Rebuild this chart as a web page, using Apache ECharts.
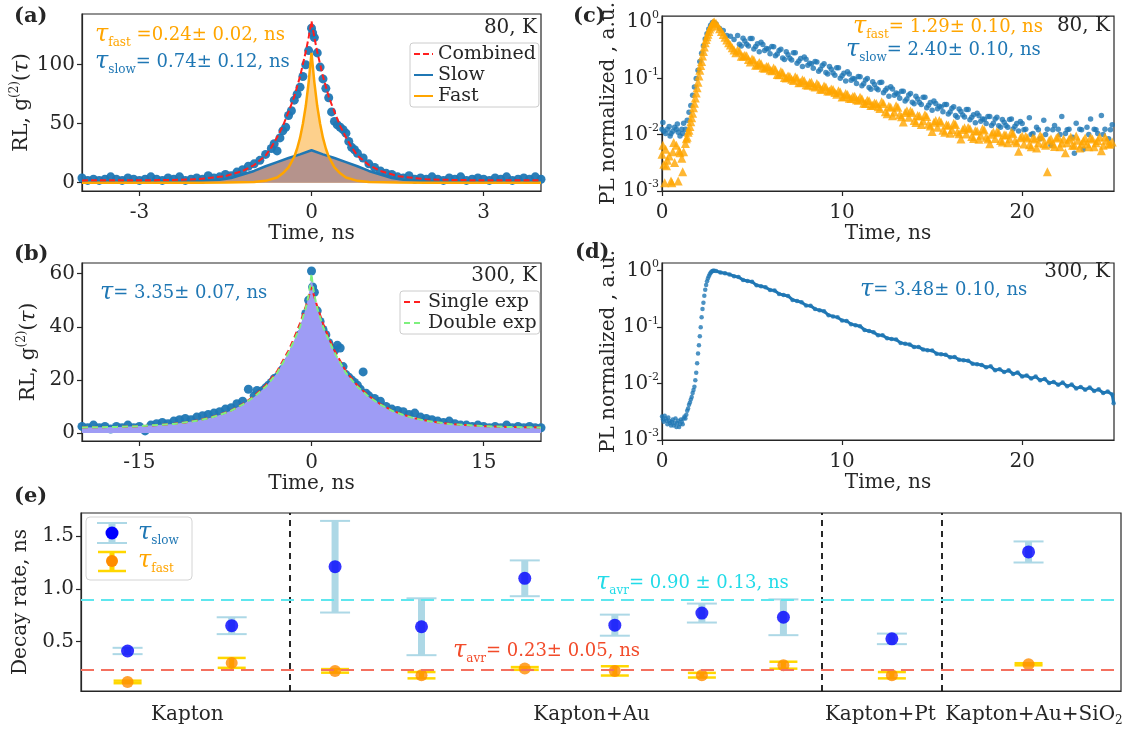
<!DOCTYPE html>
<html>
<head>
<meta charset="utf-8">
<script src="https://cdn.jsdelivr.net/npm/echarts@6/dist/echarts.min.js"></script>
<style>
html,body{margin:0;padding:0;background:#fff}
#chart{width:1128px;height:729px}
</style>
</head>
<body>
<div id="chart"></div>
<script>
// ---------- (a) 80 K : second-order correlation ----------
const corr80 = [[-4.0,4],[-3.9,2],[-3.8,3],[-3.7,2],[-3.6,3],[-3.5,5],[-3.4,3],[-3.3,2],[-3.2,4],[-3.1,3],[-3.0,2],[-2.9,3],[-2.8,5],[-2.7,3],[-2.6,2],[-2.5,4],[-2.4,3],[-2.3,5],[-2.2,2],[-2.1,3],[-2.0,4],[-1.9,3],[-1.8,6],[-1.7,4],[-1.6,5],[-1.5,7],[-1.4,6],[-1.3,9],[-1.2,11],[-1.1,14],[-1.0,16],[-0.9,19],[-0.8,24],[-0.7,29],[-0.65,33],[-0.6,27],[-0.55,38],[-0.5,44],[-0.45,47],[-0.4,57],[-0.35,61],[-0.3,70],[-0.25,75],[-0.2,81],[-0.15,90],[-0.1,100],[-0.05,112],[0,131],[0.02,127],[0.05,123],[0.1,110],[0.15,98],[0.2,88],[0.25,80],[0.3,72],[0.35,60],[0.4,52],[0.45,49],[0.5,47],[0.55,45],[0.6,42],[0.65,35],[0.7,30],[0.75,28],[0.8,25],[0.9,21],[1.0,16],[1.1,13],[1.2,10],[1.3,8],[1.4,7],[1.5,5],[1.6,4],[1.7,6],[1.8,3],[1.9,4],[2.0,3],[2.1,5],[2.2,3],[2.3,2],[2.4,4],[2.5,3],[2.6,5],[2.7,2],[2.8,3],[2.9,4],[3.0,3],[3.1,2],[3.2,4],[3.3,3],[3.4,5],[3.5,2],[3.6,3],[3.7,4],[3.8,3],[3.9,5],[4.0,3]];
const fitComb80 = [[-4,2],[-3,2.1],[-2.5,2.3],[-2,2.9],[-1.5,5.6],[-1.2,10],[-1,15],[-0.8,23],[-0.7,30],[-0.6,38.5],[-0.5,48],[-0.4,60],[-0.3,73],[-0.2,90],[-0.1,111],[-0.05,123],[0,137],[0.05,123],[0.1,111],[0.2,90],[0.3,73],[0.4,60],[0.5,48],[0.6,38.5],[0.7,30],[0.8,23],[1,15],[1.2,10],[1.5,5.6],[2,2.9],[2.5,2.3],[3,2.1],[4,2]];
const fitSlow80 = [[-4,1],[-3,1],[-2,1.5],[-1.6,2.5],[-1.4,4],[-1.2,7],[-1,10],[-0.8,14],[-0.6,17.5],[-0.4,21],[-0.2,24],[0,27.5],[0.2,24],[0.4,21],[0.6,17.5],[0.8,14],[1,10],[1.2,7],[1.4,4],[1.6,2.5],[2,1.5],[3,1],[4,1]];
const fitFast80 = [[-4,0],[-2,0],[-1.5,0.1],[-1,0.6],[-0.8,1.6],[-0.6,4.5],[-0.5,8],[-0.4,13],[-0.3,22],[-0.25,29],[-0.2,38],[-0.15,50],[-0.1,65],[-0.05,85],[0,110],[0.05,85],[0.1,65],[0.15,50],[0.2,38],[0.25,29],[0.3,22],[0.4,13],[0.5,8],[0.6,4.5],[0.8,1.6],[1,0.6],[1.5,0.1],[2,0],[4,0]];

// ---------- (b) 300 K : second-order correlation ----------
const corr300 = [[-20,2.5],[-19.5,2],[-19,3],[-18.5,2],[-18,2.5],[-17.5,1.5],[-17,2.5],[-16.5,2],[-16,3],[-15.5,2],[-15,2.5],[-14.5,0.8],[-14,3],[-13.5,3.5],[-13,4],[-12.5,3.5],[-12,4.5],[-11.5,5],[-11,5.5],[-10.5,5],[-10,6],[-9.5,6.5],[-9,7],[-8.5,7.5],[-8,8],[-7.5,9],[-7,9.5],[-6.5,11],[-6,12],[-5.5,16.5],[-5,14],[-4.75,16],[-4.5,15],[-4.25,16],[-4,17],[-3.75,18],[-3.5,19],[-3.25,20.5],[-3,21],[-2.75,22],[-2.5,24],[-2.25,25],[-2,27],[-1.75,29],[-1.5,31],[-1.25,33],[-1,37],[-0.75,40],[-0.5,45],[-0.25,50],[0,61],[0.1,55],[0.25,53],[0.5,46],[0.75,42],[1,39],[1.25,37],[1.5,34],[1.75,32],[2,31],[2.25,33],[2.5,32],[2.75,25],[3,22],[3.25,21],[3.5,20],[3.75,19],[4,18],[4.25,16.5],[4.5,23],[4.75,15],[5,14],[5.5,13],[6,12],[6.5,10],[7,9],[7.5,8.5],[8,8],[8.5,7],[9,7.5],[9.5,6],[10,5.5],[10.5,5],[11,4.5],[11.5,4],[12,4.5],[12.5,3.5],[13,3],[13.5,3],[14,2.5],[14.5,3],[15,2.5],[15.5,2],[16,2.5],[16.5,2],[17,3],[17.5,2],[18,2.5],[18.5,2],[19,2.5],[19.5,2],[20,2]];
const fitSingle300 = [[-20,2.1],[-17,2.3],[-15,2.6],[-13,3.1],[-12,3.5],[-11,4],[-10,4.7],[-9,5.6],[-8,6.9],[-7,8.5],[-6,10.9],[-5,13.9],[-4,17.9],[-3,23.2],[-2,31.1],[-1.5,35.9],[-1,41.3],[-0.5,47.7],[-0.25,51.2],[0,55],[0.25,51.2],[0.5,47.7],[1,41.3],[1.5,35.9],[2,31.1],[3,23.2],[4,17.9],[5,13.9],[6,10.9],[7,8.5],[8,6.9],[9,5.6],[10,4.7],[11,4],[12,3.5],[13,3.1],[15,2.6],[17,2.3],[20,2.1]];
const fitDouble300 = [[-20,2.1],[-17,2.3],[-15,2.6],[-12,3.4],[-10,4.6],[-9,5.5],[-8,6.8],[-7,8.4],[-6,10.7],[-5,13.6],[-4,17.4],[-3,22.6],[-2,30.3],[-1.5,35],[-1,40],[-0.5,47],[-0.25,52],[-0.1,56],[0,60],[0.1,56],[0.25,52],[0.5,47],[1,40],[1.5,35],[2,30.3],[3,22.6],[4,17.4],[5,13.6],[6,10.7],[7,8.4],[8,6.8],[9,5.5],[10,4.6],[12,3.4],[15,2.6],[17,2.3],[20,2.1]];

// ---------- (c) 80 K : PL decay ----------
const plSlow80 = [[0,0.0125],[0.05,0.0165],[0.1,0.0115],[0.2,0.0105],[0.3,0.0125],[0.4,0.014],[0.45,0.0095],[0.5,0.0105],[0.6,0.0115],[0.7,0.0135],[0.8,0.0125],[0.85,0.0155],[0.9,0.011],[1.0,0.0095],[1.1,0.0125],[1.15,0.0105],[1.2,0.016],[1.3,0.0125],[1.4,0.018],[1.5,0.025],[1.6,0.033],[1.7,0.05],[1.8,0.07],[1.9,0.1],[2.0,0.14],[2.1,0.2],[2.2,0.28],[2.3,0.38],[2.4,0.5],[2.5,0.62],[2.6,0.75],[2.7,0.88],[2.8,0.98],[2.9,0.97],[3.0,0.92],[3.2,0.77],[3.4,0.71],[3.6,0.58],[3.8,0.56],[4.0,0.49],[4.2,0.576],[4.3,0.402],[4.4,0.375],[4.5,0.514],[4.6,0.459],[4.7,0.402],[4.8,0.376],[4.9,0.509],[5.0,0.509],[5.1,0.334],[5.2,0.37],[5.3,0.41],[5.4,0.298],[5.5,0.436],[5.6,0.398],[5.7,0.312],[5.8,0.339],[5.9,0.331],[6.0,0.275],[6.1,0.367],[6.2,0.365],[6.3,0.251],[6.4,0.271],[6.5,0.314],[6.6,0.33],[6.7,0.231],[6.8,0.216],[6.9,0.296],[7.0,0.264],[7.1,0.228],[7.2,0.211],[7.3,0.286],[7.4,0.286],[7.5,0.186],[7.6,0.203],[7.7,0.226],[7.8,0.163],[7.9,0.24],[8.0,0.218],[8.1,0.171],[8.2,0.186],[8.3,0.182],[8.4,0.151],[8.5,0.2],[8.6,0.196],[8.7,0.134],[8.8,0.145],[8.9,0.169],[9.0,0.181],[9.1,0.127],[9.2,0.119],[9.3,0.162],[9.4,0.145],[9.5,0.124],[9.6,0.114],[9.7,0.154],[9.8,0.154],[9.9,0.101],[10.0,0.111],[10.1,0.123],[10.2,0.0896],[10.3,0.131],[10.4,0.12],[10.5,0.0927],[10.6,0.1],[10.7,0.097],[10.8,0.0808],[10.9,0.108],[11.0,0.107],[11.1,0.0739],[11.2,0.08],[11.3,0.0935],[11.4,0.0996],[11.5,0.0688],[11.6,0.064],[11.7,0.0874],[11.8,0.0777],[11.9,0.067],[12.0,0.0625],[12.1,0.0842],[12.2,0.085],[12.3,0.0554],[12.4,0.0618],[12.5,0.067],[12.6,0.048],[12.7,0.0708],[12.8,0.065],[12.9,0.0504],[13.0,0.055],[13.1,0.053],[13.2,0.0442],[13.3,0.0592],[13.4,0.059],[13.5,0.0398],[13.6,0.0432],[13.7,0.0506],[13.8,0.054],[13.9,0.0378],[14.0,0.0353],[14.1,0.0483],[14.2,0.043],[14.3,0.0372],[14.4,0.0343],[14.5,0.0464],[14.6,0.0463],[14.7,0.0302],[14.8,0.0333],[14.9,0.0373],[15.0,0.0272],[15.1,0.0396],[15.2,0.0358],[15.3,0.0288],[15.4,0.032],[15.5,0.031],[15.6,0.0255],[15.7,0.0342],[15.8,0.0342],[15.9,0.0232],[16.0,0.0253],[16.1,0.0295],[16.2,0.0312],[16.3,0.0219],[16.4,0.0205],[16.5,0.0285],[16.6,0.0257],[16.7,0.0223],[16.8,0.0206],[16.9,0.0279],[17.0,0.028],[17.1,0.0184],[17.2,0.0203],[17.3,0.0226],[17.4,0.0163],[17.5,0.024],[17.6,0.0218],[17.7,0.0173],[17.8,0.019],[17.9,0.0188],[18.0,0.0158],[18.1,0.0211],[18.2,0.021],[18.3,0.0146],[18.4,0.016],[18.5,0.0189],[18.6,0.0204],[18.7,0.0144],[18.8,0.0136],[18.9,0.0186],[19.0,0.0166],[19.1,0.0145],[19.2,0.0136],[19.3,0.0187],[19.4,0.0189],[19.5,0.0126],[19.6,0.0141],[19.7,0.0158],[19.8,0.0116],[19.9,0.0172],[20.0,0.0158],[20.1,0.0123],[20.2,0.0125],[20.4,0.02],[20.5,0.0101],[20.6,0.0105],[20.8,0.0135],[20.9,0.0123],[21.0,0.0085],[21.2,0.018],[21.3,0.0101],[21.4,0.0125],[21.6,0.0065],[21.7,0.0123],[21.8,0.0145],[22.0,0.0125],[22.1,0.0101],[22.2,0.021],[22.4,0.0105],[22.5,0.0123],[22.6,0.0125],[22.8,0.009],[22.9,0.0047],[23.0,0.016],[23.2,0.0125],[23.3,0.0123],[23.4,0.0055],[23.6,0.0135],[23.7,0.0101],[23.8,0.019],[24.0,0.0125],[24.1,0.0123],[24.2,0.0105],[24.4,0.022],[24.5,0.0101],[24.6,0.0125],[24.8,0.0085],[24.9,0.0123],[25.0,0.015]];
const plFast80 = [[0,0.0045],[0.05,0.0065],[0.1,0.003],[0.15,0.0014],[0.2,0.0055],[0.25,0.0028],[0.3,0.0035],[0.4,0.0042],[0.5,0.0015],[0.55,0.0014],[0.6,0.005],[0.65,0.0073],[0.7,0.0032],[0.8,0.0065],[0.9,0.0015],[0.95,0.0052],[1.0,0.0048],[1.1,0.0038],[1.15,0.0022],[1.2,0.005],[1.3,0.007],[1.35,0.0085],[1.4,0.009],[1.45,0.011],[1.5,0.012],[1.55,0.014],[1.6,0.017],[1.65,0.02],[1.7,0.024],[1.75,0.03],[1.8,0.036],[1.85,0.045],[1.9,0.055],[1.95,0.068],[2.0,0.085],[2.05,0.11],[2.1,0.14],[2.15,0.17],[2.2,0.2],[2.25,0.25],[2.3,0.3],[2.35,0.36],[2.4,0.43],[2.45,0.49],[2.5,0.55],[2.55,0.61],[2.6,0.68],[2.65,0.75],[2.7,0.82],[2.75,0.89],[2.8,0.95],[2.85,0.98],[2.9,1.0],[3.0,0.95],[3.1,0.85],[3.2,0.76],[3.3,0.68],[3.4,0.6],[3.5,0.54],[3.6,0.48],[3.7,0.43],[3.8,0.39],[3.9,0.35],[4.0,0.32],[4.1,0.286],[4.2,0.319],[4.3,0.302],[4.4,0.248],[4.5,0.246],[4.6,0.258],[4.7,0.251],[4.8,0.216],[4.9,0.196],[5.0,0.22],[5.1,0.211],[5.2,0.171],[5.3,0.173],[5.4,0.192],[5.5,0.181],[5.6,0.154],[5.7,0.151],[5.8,0.163],[5.9,0.163],[6.0,0.141],[6.1,0.136],[6.2,0.153],[6.3,0.142],[6.4,0.117],[6.5,0.116],[6.6,0.132],[6.7,0.126],[6.8,0.104],[6.9,0.102],[7.0,0.11],[7.1,0.108],[7.2,0.096],[7.3,0.092],[7.4,0.107],[7.5,0.102],[7.6,0.0837],[7.7,0.0855],[7.8,0.095],[7.9,0.0912],[8.0,0.0773],[8.1,0.0754],[8.2,0.0842],[8.3,0.0853],[8.4,0.0732],[8.5,0.0705],[8.6,0.0814],[8.7,0.0756],[8.8,0.0639],[8.9,0.0642],[9.0,0.0734],[9.1,0.0706],[9.2,0.0598],[9.3,0.0599],[9.4,0.0645],[9.5,0.0636],[9.6,0.056],[9.7,0.0524],[9.8,0.0605],[9.9,0.0572],[10.0,0.0468],[10.1,0.0479],[10.2,0.054],[10.3,0.0515],[10.4,0.0442],[10.5,0.0437],[10.6,0.0478],[10.7,0.0482],[10.8,0.0418],[10.9,0.0409],[11.0,0.0462],[11.1,0.0435],[11.2,0.036],[11.3,0.0359],[11.4,0.041],[11.5,0.04],[11.6,0.0331],[11.7,0.0334],[11.8,0.0364],[11.9,0.0357],[12.0,0.0314],[12.1,0.0293],[12.2,0.0384],[12.3,0.0357],[12.4,0.0255],[12.5,0.0236],[12.6,0.0319],[12.7,0.0308],[12.8,0.0216],[12.9,0.0252],[13.0,0.0325],[13.1,0.0306],[13.2,0.0225],[13.3,0.0208],[13.4,0.0168],[13.5,0.0247],[13.6,0.0265],[13.7,0.0203],[13.8,0.0264],[13.9,0.0247],[14.0,0.0179],[14.1,0.0164],[14.2,0.022],[14.3,0.0215],[14.4,0.0152],[14.5,0.0176],[14.6,0.0225],[14.7,0.021],[14.8,0.0153],[14.9,0.0142],[15.0,0.0114],[15.1,0.0167],[15.2,0.0178],[15.3,0.0136],[15.4,0.0178],[15.5,0.0167],[15.6,0.012],[15.7,0.0111],[15.8,0.015],[15.9,0.0147],[16.0,0.0106],[16.1,0.0124],[16.2,0.016],[16.3,0.0151],[16.4,0.0112],[16.5,0.0104],[16.6,0.0084],[16.7,0.0124],[16.8,0.0133],[16.9,0.0103],[17.0,0.0134],[17.1,0.0127],[17.2,0.0093],[17.3,0.0086],[17.4,0.0117],[17.5,0.0116],[17.6,0.0083],[17.7,0.0098],[17.8,0.0128],[17.9,0.0121],[18.0,0.009],[18.1,0.0084],[18.2,0.0069],[18.3,0.0102],[18.4,0.0112],[18.5,0.0086],[18.6,0.0114],[18.7,0.0108],[18.8,0.0079],[18.9,0.0074],[19.0,0.01],[19.1,0.0099],[19.2,0.0072],[19.3,0.0085],[19.4,0.011],[19.5,0.0104],[19.6,0.0077],[19.7,0.0072],[19.8,0.0051],[19.9,0.0088],[20.0,0.0095],[20.1,0.0068],[20.2,0.0094],[20.3,0.0087],[20.4,0.0066],[20.5,0.0061],[20.6,0.0088],[20.7,0.0084],[20.8,0.0058],[20.9,0.0072],[21.0,0.0097],[21.1,0.0091],[21.2,0.0069],[21.3,0.0065],[21.4,0.0022],[21.5,0.008],[21.6,0.0085],[21.7,0.0068],[21.8,0.0062],[21.9,0.0087],[22.0,0.0092],[22.1,0.0061],[22.2,0.0071],[22.3,0.0084],[22.4,0.0048],[22.5,0.0072],[22.6,0.0083],[22.7,0.0091],[22.8,0.0065],[22.9,0.0065],[23.0,0.0095],[23.1,0.008],[23.2,0.0058],[23.3,0.0068],[23.4,0.0078],[23.5,0.0087],[23.6,0.0069],[23.7,0.0061],[23.8,0.0088],[23.9,0.0084],[24.0,0.0061],[24.1,0.0072],[24.2,0.0079],[24.3,0.0091],[24.4,0.0052],[24.5,0.0065],[24.6,0.0091],[24.7,0.008],[24.8,0.0068],[24.9,0.0068],[25.0,0.0074]];

// ---------- (d) 300 K : PL decay ----------
const plRise300 = [[0,0.0026],[0.05,0.0023],[0.1,0.0021],[0.15,0.0027],[0.2,0.0024],[0.25,0.0022],[0.3,0.0019],[0.35,0.0025],[0.4,0.0022],[0.45,0.002],[0.5,0.0018],[0.55,0.0021],[0.6,0.0023],[0.65,0.0018],[0.7,0.002],[0.75,0.0024],[0.8,0.0017],[0.85,0.002],[0.9,0.0022],[0.95,0.0017],[1.0,0.0019],[1.05,0.0023],[1.1,0.0021],[1.15,0.0019],[1.2,0.0024],[1.25,0.0026],[1.3,0.0024],[1.35,0.0028],[1.4,0.0033],[1.45,0.0036],[1.5,0.0042],[1.55,0.0046],[1.6,0.0052],[1.65,0.0058],[1.7,0.0068],[1.75,0.0077],[1.8,0.0088],[1.85,0.0115],[1.9,0.0155],[1.95,0.023],[2.0,0.034],[2.05,0.048],[2.1,0.069],[2.15,0.1],[2.2,0.15],[2.25,0.21],[2.3,0.27],[2.35,0.36],[2.4,0.46],[2.45,0.56],[2.5,0.65],[2.55,0.73],[2.6,0.8],[2.65,0.87],[2.7,0.92],[2.75,0.96],[2.8,0.99],[2.85,1.0],[2.9,1.0]];
const plDecay300 = [[3.0,0.99],[3.25,0.93],[3.5,0.9],[3.75,0.86],[4.0,0.8],[4.25,0.776],[4.5,0.684],[4.75,0.658],[5.0,0.639],[5.25,0.551],[5.5,0.531],[5.75,0.511],[6.0,0.454],[6.25,0.446],[6.5,0.388],[6.75,0.371],[7.0,0.357],[7.25,0.304],[7.5,0.29],[7.75,0.277],[8.0,0.243],[8.25,0.239],[8.5,0.209],[8.75,0.199],[9.0,0.191],[9.25,0.163],[9.5,0.155],[9.75,0.149],[10.0,0.131],[10.25,0.129],[10.5,0.113],[10.75,0.108],[11.0,0.104],[11.25,0.089],[11.5,0.0852],[11.75,0.0814],[12.0,0.0719],[12.25,0.0719],[12.5,0.0636],[12.75,0.0618],[13.0,0.0605],[13.25,0.0526],[13.5,0.051],[13.75,0.0495],[14.0,0.0443],[14.25,0.0447],[14.5,0.04],[14.75,0.0391],[15.0,0.0387],[15.25,0.0339],[15.5,0.0332],[15.75,0.0324],[16.0,0.0293],[16.25,0.0296],[16.5,0.0264],[16.75,0.0259],[17.0,0.0255],[17.25,0.0224],[17.5,0.0219],[17.75,0.0214],[18.0,0.0194],[18.25,0.0202],[18.5,0.0172],[18.75,0.018],[19.0,0.016],[19.25,0.0172],[19.5,0.0148],[19.75,0.0157],[20.0,0.0133],[20.25,0.0139],[20.5,0.0123],[20.75,0.0133],[21.0,0.0114],[21.25,0.0121],[21.5,0.0102],[21.75,0.0107],[22.0,0.0095],[22.25,0.0104],[22.5,0.009],[22.75,0.0096],[23.0,0.0082],[23.25,0.0087],[23.5,0.0078],[23.75,0.0085],[24.0,0.0074],[24.25,0.0079],[24.5,0.0068],[24.75,0.0072],[25.0,0.0064],[25.08,0.0045]];

// ---------- (e) lifetimes per sample ----------
const samplePos   = [0.448, 1.449, 2.443, 3.274, 4.267, 5.133, 5.970, 6.754, 7.797, 9.111];
const tauSlow     = [0.41, 0.65, 1.21, 0.64, 1.10, 0.655, 0.77, 0.73, 0.525, 1.35];
const tauSlowErr  = [0.03, 0.08, 0.435, 0.27, 0.17, 0.10, 0.09, 0.17, 0.05, 0.10];
const tauFast     = [0.116, 0.297, 0.221, 0.18, 0.244, 0.221, 0.18, 0.275, 0.18, 0.284];
const tauFastErr  = [0.012, 0.047, 0.017, 0.03, 0.013, 0.044, 0.022, 0.033, 0.03, 0.01];
const groupNames   = ['Kapton', 'Kapton+Au', 'Kapton+Pt', 'Kapton+Au+SiO2'];
const groupCenters = [1.023, 4.91, 7.686, 9.163];
const groupBounds  = [2.007, 7.124, 8.278];
const tauSlowAvg = [0.90, 0.13];
const tauFastAvg = [0.23, 0.05];

// ---------- tick values ----------
const ticksAx = [-3, 0, 3], ticksAy = [0, 50, 100];
const ticksBx = [-15, 0, 15], ticksBy = [0, 20, 40, 60];
const ticksT = [0, 10, 20];
const ticksLog = [0.0010001, 0.01, 0.1, 1];
const ticksEy = [0.5, 1.0, 1.5];

const F = 'DejaVu Serif';
const INK = '#262626';
const C0 = '#1f77b4';
const ORG = '#ffa500';

function axis(o) {
  const base = {
    type: 'value',
    nameLocation: 'middle',
    axisLine: { show: true, onZero: false, lineStyle: { color: INK, width: 1.2 } },
    axisTick: { show: true, length: 5, lineStyle: { color: INK, width: 1.2 } },
    splitLine: { show: false },
    axisLabel: { fontFamily: F, fontSize: 20, color: INK },
    nameTextStyle: { fontFamily: F, fontSize: 20, color: INK }
  };
  return echarts.util.merge(base, o, true);
}

const logRich = {
  b: { fontFamily: F, fontSize: 20, color: INK, lineHeight: 24 },
  e: { fontFamily: F, fontSize: 11, color: INK, lineHeight: 11, verticalAlign: 'top' }
};
const logFmt = v => '{b|10}{e|' + Math.round(Math.log10(v)) + '}';

const g2Name = '{n|RL, g}{p|(2)}{n|(}{t|τ}{n|)}';
const g2Rich = {
  n: { fontFamily: F, fontSize: 20, color: INK, lineHeight: 26 },
  p: { fontFamily: F, fontSize: 12, color: INK, lineHeight: 12, verticalAlign: 'top' },
  t: { fontFamily: F, fontSize: 22, fontStyle: 'italic', color: INK, lineHeight: 26 }
};

function groupLabel(v) {
  const i = groupCenters.findIndex(c => Math.abs(c - v) < 1e-6);
  const name = i >= 0 ? groupNames[i] : '';
  const m = name.match(/^(.*?)(\d+)$/);
  return m ? '{n|' + m[1] + '}{s|' + m[2] + '}' : '{n|' + name + '}';
}

function tauText(x, y, sub, rest, color) {
  let txt = '{t|τ}';
  if (sub) txt += '{s|' + sub + '}';
  if (rest) txt += '{n|' + rest + '}';
  return {
    type: 'text', x: x, y: y, z: 50, silent: true,
    style: {
      text: txt, fill: color, verticalAlign: 'middle', align: 'left',
      rich: {
        t: { fontFamily: F, fontStyle: 'italic', fontSize: 24, fill: color, lineHeight: 28, verticalAlign: 'middle' },
        s: { fontFamily: F, fontSize: 12, fill: color, lineHeight: 13, verticalAlign: 'bottom' },
        n: { fontFamily: F, fontSize: 18, fill: color, lineHeight: 28, verticalAlign: 'middle' }
      }
    }
  };
}
function plainText(x, y, text, align, weight) {
  return {
    type: 'text', x: x, y: y, z: 50, silent: true,
    style: { text: text, fill: INK, fontFamily: F, fontSize: weight ? 21 : 20, fontWeight: weight || 'normal', align: align, verticalAlign: 'middle' }
  };
}

function errorBar(color, barW, capW, capLW) {
  return function (params, api) {
    const x = api.value(0), y = api.value(1), e = api.value(2);
    const top = api.coord([x, y + e]);
    const bot = api.coord([x, y - e]);
    const h = capW / 2;
    return {
      type: 'group',
      children: [
        { type: 'rect', shape: { x: top[0] - barW / 2, y: top[1], width: barW, height: bot[1] - top[1] }, style: { fill: color } },
        { type: 'line', shape: { x1: top[0] - h, y1: top[1], x2: top[0] + h, y2: top[1] }, style: { stroke: color, lineWidth: capLW } },
        { type: 'line', shape: { x1: bot[0] - h, y1: bot[1], x2: bot[0] + h, y2: bot[1] }, style: { stroke: color, lineWidth: capLW } }
      ]
    };
  };
}

const gridBox = { show: true, borderColor: INK, borderWidth: 1.2, backgroundColor: 'transparent' };

const legendBase = {
  orient: 'vertical', itemGap: 1, itemWidth: 19, itemHeight: 14,
  padding: [1, 3, 1, 3], borderColor: '#cccccc', borderWidth: 1, borderRadius: 3,
  backgroundColor: 'rgba(255,255,255,0.85)',
  itemStyle: { opacity: 0 },
  textStyle: { fontFamily: F, fontSize: 19, color: INK, lineHeight: 20 },
  selectedMode: false
};

const option = {
  animation: false,
  backgroundColor: '#ffffff',
  grid: [
    Object.assign({ left: 82, top: 14, width: 459, height: 177 }, gridBox),
    Object.assign({ left: 82, top: 263, width: 459, height: 178 }, gridBox),
    Object.assign({ left: 662, top: 12, width: 452, height: 179 }, gridBox),
    Object.assign({ left: 662, top: 263, width: 452, height: 177 }, gridBox),
    Object.assign({ left: 81, top: 513, width: 1040, height: 178 }, gridBox)
  ],
  xAxis: [
    axis({ gridIndex: 0, min: -4, max: 4, name: 'Time, ns', nameGap: 30,
      axisLabel: { customValues: ticksAx, margin: 12 }, axisTick: { customValues: ticksAx } }),
    axis({ gridIndex: 1, min: -20, max: 20, name: 'Time, ns', nameGap: 30,
      axisLabel: { customValues: ticksBx, margin: 12 }, axisTick: { customValues: ticksBx } }),
    axis({ gridIndex: 2, min: 0, max: 25.1, name: 'Time, ns', nameGap: 30,
      axisLabel: { customValues: ticksT, margin: 12 }, axisTick: { customValues: ticksT } }),
    axis({ gridIndex: 3, min: 0, max: 25.1, name: 'Time, ns', nameGap: 30,
      axisLabel: { customValues: ticksT, margin: 12 }, axisTick: { customValues: ticksT } }),
    axis({ gridIndex: 4, min: 0, max: 10, axisTick: { show: false },
      axisLabel: { customValues: groupCenters, margin: 12, formatter: groupLabel,
        rich: { n: { fontFamily: F, fontSize: 20, color: INK, lineHeight: 24 },
                s: { fontFamily: F, fontSize: 12, color: INK, lineHeight: 12, verticalAlign: 'bottom' } } } })
  ],
  yAxis: [
    axis({ gridIndex: 0, min: -7, max: 143, name: g2Name, nameRotate: 90, nameGap: 40,
      nameTextStyle: { rich: g2Rich },
      axisLabel: { customValues: ticksAy, margin: 7 }, axisTick: { customValues: ticksAy } }),
    axis({ gridIndex: 1, min: -3, max: 64, name: g2Name, nameRotate: 90, nameGap: 40,
      nameTextStyle: { rich: g2Rich },
      axisLabel: { customValues: ticksBy, margin: 7 }, axisTick: { customValues: ticksBy } }),
    axis({ gridIndex: 2, type: 'log', logBase: 10, min: 0.001, max: 1.28,
      name: 'PL normalized , a.u.', nameRotate: 90, nameGap: 30,
      axisLabel: { customValues: ticksLog, formatter: logFmt, margin: 3, rich: logRich },
      axisTick: { customValues: ticksLog } }),
    axis({ gridIndex: 3, type: 'log', logBase: 10, min: 0.001, max: 1.37,
      name: 'PL normalized , a.u.', nameRotate: 90, nameGap: 30,
      axisLabel: { customValues: ticksLog, formatter: logFmt, margin: 3, rich: logRich },
      axisTick: { customValues: ticksLog } }),
    axis({ gridIndex: 4, min: 0.03, max: 1.72, name: 'Decay rate, ns', nameRotate: 90, nameGap: 35,
      axisLabel: { customValues: ticksEy, margin: 7, formatter: v => v.toFixed(1) },
      axisTick: { customValues: ticksEy } })
  ],
  legend: [
    Object.assign({ left: 410, top: 43, data: ['Combined', 'Slow', 'Fast'] }, legendBase),
    Object.assign({ left: 400, top: 291, data: ['Single exp', 'Double exp'] }, legendBase)
  ],
  series: [
    // (a)
    { type: 'scatter', xAxisIndex: 0, yAxisIndex: 0, data: corr80, symbolSize: 9,
      itemStyle: { color: C0, opacity: 0.95 }, z: 2, silent: true },
    { type: 'line', xAxisIndex: 0, yAxisIndex: 0, data: fitFast80, symbol: 'none',
      lineStyle: { width: 0 }, areaStyle: { color: '#fdd08c', opacity: 1 }, z: 3, silent: true },
    { type: 'line', xAxisIndex: 0, yAxisIndex: 0, data: fitSlow80, symbol: 'none',
      lineStyle: { width: 0 }, areaStyle: { color: '#b5938c', opacity: 1 }, z: 4, silent: true },
    { type: 'line', name: 'Slow', xAxisIndex: 0, yAxisIndex: 0, data: fitSlow80, symbol: 'none',
      lineStyle: { color: C0, width: 2.5 }, itemStyle: { color: C0 }, z: 5 },
    { type: 'line', name: 'Fast', xAxisIndex: 0, yAxisIndex: 0, data: fitFast80, symbol: 'none',
      lineStyle: { color: ORG, width: 2.5 }, itemStyle: { color: ORG }, z: 5 },
    { type: 'line', name: 'Combined', xAxisIndex: 0, yAxisIndex: 0, data: fitComb80, symbol: 'none',
      lineStyle: { color: '#ff1f1f', width: 2, type: [6, 3] }, itemStyle: { color: '#ff1f1f' }, z: 6 },
    // (b)
    { type: 'scatter', xAxisIndex: 1, yAxisIndex: 1, data: corr300, symbolSize: 9,
      itemStyle: { color: C0, opacity: 0.95 }, z: 2, silent: true },
    { type: 'line', xAxisIndex: 1, yAxisIndex: 1, data: fitDouble300, symbol: 'none',
      lineStyle: { width: 0 }, areaStyle: { color: '#9e9cf5', opacity: 1 }, z: 3, silent: true },
    { type: 'line', name: 'Single exp', xAxisIndex: 1, yAxisIndex: 1, data: fitSingle300, symbol: 'none',
      lineStyle: { color: '#ff1f1f', width: 2, type: [6, 4] }, itemStyle: { color: '#ff1f1f' }, z: 5 },
    { type: 'line', name: 'Double exp', xAxisIndex: 1, yAxisIndex: 1, data: fitDouble300, symbol: 'none',
      lineStyle: { color: '#7ef07e', width: 2, type: [6, 4] }, itemStyle: { color: '#7ef07e' }, z: 6 },
    // (c)
    { type: 'scatter', xAxisIndex: 2, yAxisIndex: 2, data: plSlow80, symbolSize: 5.5,
      itemStyle: { color: C0 }, z: 2, silent: true },
    { type: 'scatter', xAxisIndex: 2, yAxisIndex: 2, data: plFast80, symbol: 'triangle', symbolSize: 9,
      itemStyle: { color: ORG }, z: 3, silent: true },
    // (d)
    { type: 'line', xAxisIndex: 3, yAxisIndex: 3, data: plDecay300, symbol: 'none',
      lineStyle: { color: C0, width: 3 }, z: 2, silent: true },
    { type: 'scatter', xAxisIndex: 3, yAxisIndex: 3, data: plRise300.concat(plDecay300), symbolSize: 4.5,
      itemStyle: { color: C0 }, z: 3, silent: true },
    // (e) guide lines
    { type: 'line', xAxisIndex: 4, yAxisIndex: 4, data: [], z: 1, silent: true,
      markLine: { silent: true, symbol: 'none', label: { show: false }, animation: false,
        data: groupBounds.map(v => ({ xAxis: v, lineStyle: { color: '#111111', type: [6, 5], width: 1.8 } }))
          .concat([
            { yAxis: tauSlowAvg[0], lineStyle: { color: '#5ee6ee', type: [13, 7], width: 2 } },
            { yAxis: tauFastAvg[0], lineStyle: { color: '#f4705f', type: [13, 7], width: 2 } }
          ]) } },
    // (e) error bars and markers
    { type: 'custom', xAxisIndex: 4, yAxisIndex: 4, z: 2, silent: true, encode: { x: 0, y: 1 },
      renderItem: errorBar('#add8e6', 7, 30, 2),
      data: samplePos.map((x, i) => [x, tauSlow[i], tauSlowErr[i]]) },
    { type: 'custom', xAxisIndex: 4, yAxisIndex: 4, z: 2, silent: true, encode: { x: 0, y: 1 },
      renderItem: errorBar('#ffd700', 5, 28, 2.5),
      data: samplePos.map((x, i) => [x, tauFast[i], tauFastErr[i]]) },
    { type: 'scatter', xAxisIndex: 4, yAxisIndex: 4, z: 4, silent: true, symbolSize: 13,
      itemStyle: { color: '#0000ff' }, data: samplePos.map((x, i) => [x, tauSlow[i]]) },
    { type: 'scatter', xAxisIndex: 4, yAxisIndex: 4, z: 4, silent: true, symbolSize: 12,
      itemStyle: { color: '#ff8c00' }, data: samplePos.map((x, i) => [x, tauFast[i]]) }
  ],
  graphic: [
    plainText(14, 17, '(a)', 'left', 'bold'),
    plainText(14, 255, '(b)', 'left', 'bold'),
    plainText(573, 17, '(c)', 'left', 'bold'),
    plainText(575, 253, '(d)', 'left', 'bold'),
    plainText(14, 497, '(e)', 'left', 'bold'),
    plainText(537, 28, '80, K', 'right'),
    plainText(537, 276, '300, K', 'right'),
    plainText(1110, 26, '80, K', 'right'),
    plainText(1110, 272, '300, K', 'right'),
    tauText(95, 35, 'fast', ' =0.24± 0.02, ns', ORG),
    tauText(95, 62, 'slow', '= 0.74± 0.12, ns', C0),
    tauText(100, 293, null, '= 3.35± 0.07, ns', C0),
    tauText(853, 27, 'fast', '= 1.29± 0.10, ns', ORG),
    tauText(846, 50, 'slow', '= 2.40± 0.10, ns', C0),
    tauText(860, 290, null, '= 3.48± 0.10, ns', C0),
    tauText(596, 583, 'avr', '= ' + tauSlowAvg[0].toFixed(2) + ' ± ' + tauSlowAvg[1].toFixed(2) + ', ns', '#22dbe8'),
    tauText(453, 651, 'avr', '= ' + tauFastAvg[0].toFixed(2) + '± ' + tauFastAvg[1].toFixed(2) + ', ns', '#f24b2a'),
    // legend of panel (e)
    { type: 'rect', z: 40, silent: true, shape: { x: 86, y: 517, width: 106, height: 63, r: 4 },
      style: { fill: 'rgba(255,255,255,0.85)', stroke: '#d4d4d4', lineWidth: 1 } },
    { type: 'rect', z: 41, silent: true, shape: { x: 108.5, y: 523, width: 7, height: 20 }, style: { fill: '#add8e6' } },
    { type: 'line', z: 41, silent: true, shape: { x1: 97, y1: 523, x2: 127, y2: 523 }, style: { stroke: '#add8e6', lineWidth: 2 } },
    { type: 'line', z: 41, silent: true, shape: { x1: 97, y1: 543, x2: 127, y2: 543 }, style: { stroke: '#add8e6', lineWidth: 2 } },
    { type: 'circle', z: 42, silent: true, shape: { cx: 112, cy: 533, r: 6.5 }, style: { fill: '#0000ff' } },
    { type: 'rect', z: 41, silent: true, shape: { x: 109.5, y: 552, width: 5, height: 19 }, style: { fill: '#ffd700' } },
    { type: 'line', z: 41, silent: true, shape: { x1: 98, y1: 552, x2: 126, y2: 552 }, style: { stroke: '#ffd700', lineWidth: 2.5 } },
    { type: 'line', z: 41, silent: true, shape: { x1: 98, y1: 571, x2: 126, y2: 571 }, style: { stroke: '#ffd700', lineWidth: 2.5 } },
    { type: 'circle', z: 42, silent: true, shape: { cx: 112, cy: 561, r: 6 }, style: { fill: '#ff8c00' } },
    Object.assign(tauText(138, 533, 'slow', null, C0), { z: 43 }),
    Object.assign(tauText(138, 561, 'fast', null, ORG), { z: 43 })
  ]
};

const chart = echarts.init(document.getElementById('chart'), null, { renderer: 'canvas' });
chart.setOption(option);
</script>
</body>
</html>
